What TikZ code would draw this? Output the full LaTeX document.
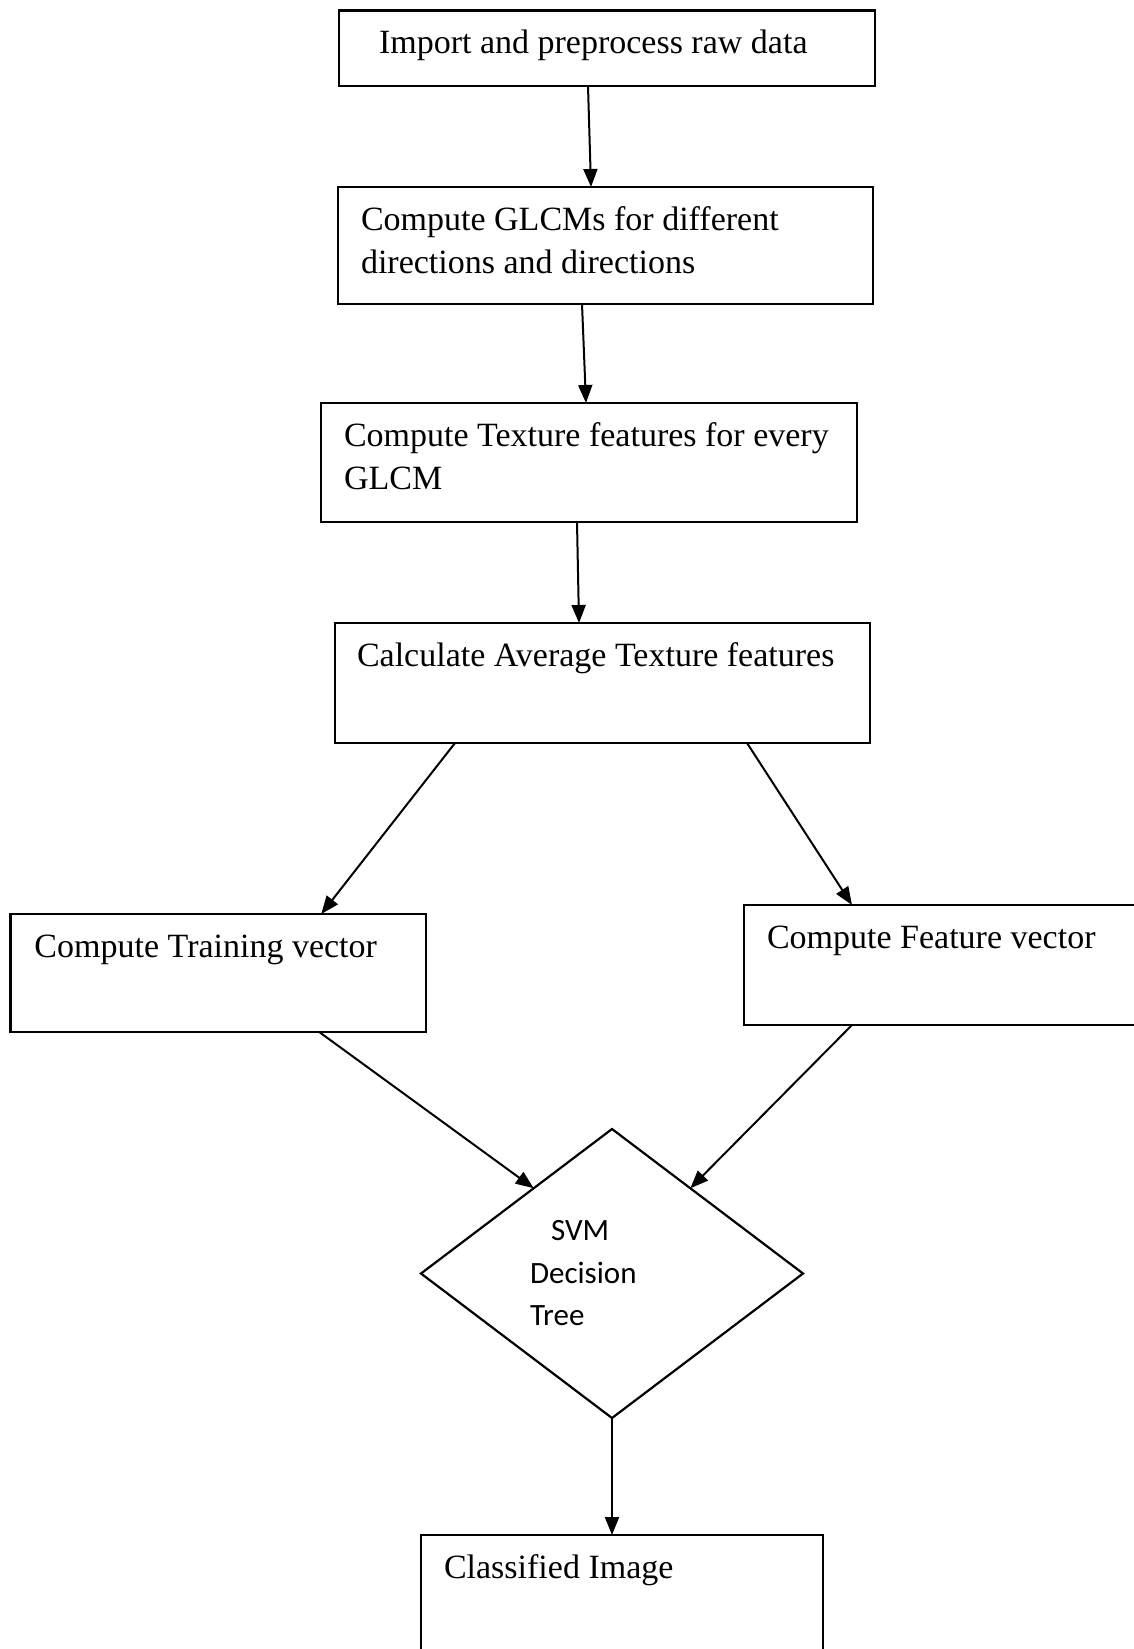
\documentclass[tikz,border=0pt]{standalone}
\usepackage{fontspec}
\setmainfont{Liberation Serif}
\newfontfamily\calfont{Carlito}
\usetikzlibrary{arrows.meta,shapes.geometric,calc}
\newcommand\boxtxt[4]{\parbox[c][#2][t]{#1}{\fontsize{34}{43}\selectfont\raggedright\leftskip=#3\relax\vspace*{13pt}\strut #4}}
\begin{document}
\begin{tikzpicture}[x=1pt,y=-1pt,
  box/.style={draw, rectangle, line width=2.2pt, inner sep=0pt, outer sep=0pt, anchor=north west},
  arr/.style={line width=2pt, -{Triangle[length=18pt,width=14pt]}}]
\clip (0,0) rectangle (1134,1649);
\fill[white] (0,0) rectangle (1134,1649);

\node[box] (b1) at (339,10.5) {\boxtxt{536pt}{75.5pt}{40pt}{Import and preprocess raw data}};
\node[box] (b2) at (338,187) {\boxtxt{535pt}{117pt}{23pt}{Compute GLCMs for different\\directions and directions}};
\node[box] (b3) at (321,403) {\boxtxt{536pt}{119pt}{23pt}{Compute Texture features for every\\GLCM}};
\node[box] (b4) at (335,623) {\boxtxt{535pt}{120pt}{22pt}{Calculate Average Texture features}};
\node[box] (b5) at (10.5,914) {\boxtxt{415.5pt}{118pt}{24pt}{Compute Training vector}};
\node[box] (b6) at (744,905) {\boxtxt{400pt}{120pt}{23pt}{Compute Feature vector}};
\node[box] (b7) at (421,1535) {\boxtxt{402pt}{130pt}{23pt}{Classified Image}};

\node[diamond, draw, line width=2.2pt, minimum width=382pt, minimum height=289pt,
      inner sep=0pt, outer sep=0pt, font=\calfont\fontsize{31}{42.5}\selectfont]
      (dia) at (612,1273.5) {\parbox{164pt}{\hspace*{21pt}SVM\\Decision\\Tree}};

\draw[arr] ([xshift=-19pt]b1.south) -- ([xshift=-14.5pt]b2.north);
\draw[arr] ([xshift=-23.5pt]b2.south) -- ([xshift=-3pt]b3.north);
\draw[arr] ([xshift=-12pt]b3.south) -- ([xshift=-23.5pt]b4.north);
\draw[arr] ([xshift=-147.5pt]b4.south) -- ([xshift=103pt]b5.north);
\draw[arr] ([xshift=144.5pt]b4.south) -- ([xshift=-92pt]b6.north);
\draw[arr] ([xshift=101pt]b5.south) -- ($(dia.west)!0.59!(dia.north)$);
\draw[arr] ([xshift=-92pt]b6.south) -- ($(dia.north)!0.41!(dia.east)$);
\draw[arr] (dia.south) -- (dia.south |- b7.north);
\end{tikzpicture}
\end{document}
